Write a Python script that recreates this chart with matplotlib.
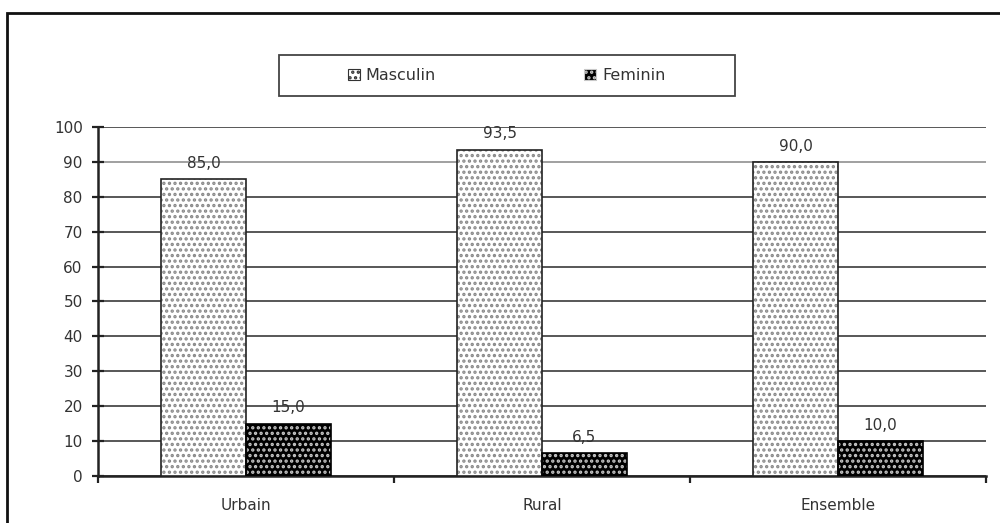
import matplotlib
matplotlib.use("Agg")
import matplotlib.pyplot as plt
from matplotlib.patches import Rectangle, Patch
import numpy as np

categories = ["Urbain", "Rural", "Ensemble"]
masculin = [85.0, 93.5, 90.0]
feminin = [15.0, 6.5, 10.0]
series_names = ["Masculin", "Feminin"]
yticks = [0, 10, 20, 30, 40, 50, 60, 70, 80, 90, 100]

plt.rcParams['font.family'] = ['DejaVu Sans']
plt.rcParams['hatch.linewidth'] = 1.6

fig = plt.figure(figsize=(10, 5.23), dpi=100)
ax = fig.add_axes([0.098, 0.0899, 0.888, 0.6673])

x = np.arange(len(categories))
w = 0.287
txt = '#333333'
fs = 11

# Masculin: white with grey dots
ax.bar(x - w/2, masculin, w, color='white', edgecolor='#888888', hatch='...', linewidth=0, zorder=3)
ax.bar(x - w/2, masculin, w, fill=False, edgecolor='#222222', linewidth=1.2, zorder=4)
# Feminin: black with white dots
ax.bar(x + w/2, feminin, w, color='black', edgecolor='#c8c8c8', hatch='...', linewidth=0, zorder=3)
ax.bar(x + w/2, feminin, w, fill=False, edgecolor='black', linewidth=1.2, zorder=4)

for xi, v in zip(x - w/2, masculin):
    ax.annotate(f"{v:.1f}".replace('.', ','), (xi, v), xytext=(0, 6), textcoords='offset points',
                ha='center', va='bottom', fontsize=fs, color=txt)
for xi, v in zip(x + w/2, feminin):
    ax.annotate(f"{v:.1f}".replace('.', ','), (xi, v), xytext=(0, 6), textcoords='offset points',
                ha='center', va='bottom', fontsize=fs, color=txt)

ax.set_xlim(-0.5, 2.5)
ax.set_ylim(0, 100)
ax.set_yticks(yticks)
ax.set_yticklabels([str(t) for t in yticks], fontsize=fs, color=txt)
ax.yaxis.grid(True, color='#4a4a4a', linewidth=1.3, zorder=0)
ax.set_axisbelow(True)
ax.get_ygridlines()[9].set_color('#999999')

# x ticks at category boundaries, labels at centers
ax.set_xticks([-0.5, 0.5, 1.5, 2.5])
ax.set_xticklabels([])
ax.set_xticks(x, minor=True)
ax.set_xticklabels(categories, minor=True, fontsize=fs, color=txt)
ax.tick_params(axis='x', which='minor', length=0, pad=16)
ax.tick_params(axis='x', which='major', length=5, width=1.6, direction='out', color='#222222')
ax.tick_params(axis='y', which='major', length=8, width=1.6, direction='inout', pad=7, color='#222222')

for s in ['top', 'right']:
    ax.spines[s].set_visible(False)
ax.spines['left'].set_linewidth(1.8)
ax.spines['bottom'].set_linewidth(1.8)
ax.spines['left'].set_color('#222222')
ax.spines['bottom'].set_color('#222222')

# outer frame
fig.patches.append(Rectangle((0.007, -0.05), 1.05, 1.025, transform=fig.transFigure,
                             fill=False, edgecolor='#111111', linewidth=2.0))

# legend box
fig.patches.append(Rectangle((0.279, 1 - 96/523), 0.456, 41/523, transform=fig.transFigure,
                             fill=False, edgecolor='#444444', linewidth=1.3))
handles = [Patch(facecolor='white', edgecolor='#333333', hatch='...', linewidth=0.8),
           Patch(facecolor='black', edgecolor='#c8c8c8', hatch='...', linewidth=0.8)]
leg = fig.legend(handles, series_names, loc='center left', bbox_to_anchor=(0.340, 1 - 75.5/523),
                 ncol=2, frameon=False, fontsize=11.5, handlelength=0.75, handleheight=0.75,
                 handletextpad=0.35, columnspacing=9.3, borderpad=0, labelcolor=txt)

fig.savefig("out.png", dpi=100)
